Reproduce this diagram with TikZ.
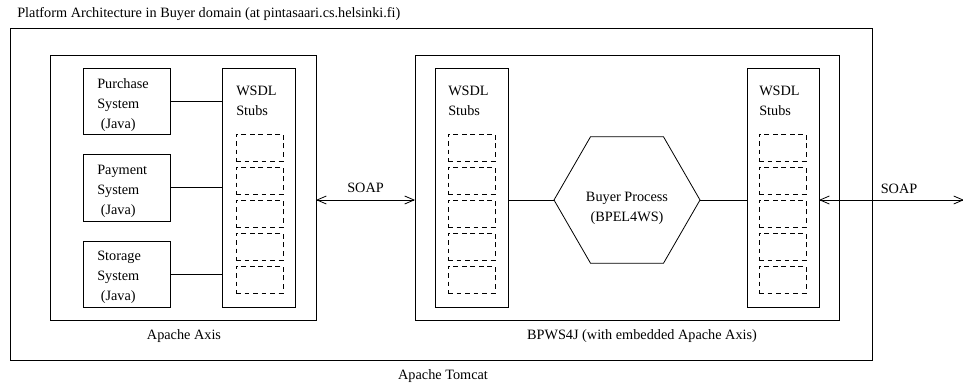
\documentclass[tikz,border=0pt]{standalone}
\usepackage{fontspec}
\setmainfont{Liberation Serif}
\usetikzlibrary{arrows.meta, positioning, fit, shapes.geometric}

\begin{document}
\begin{tikzpicture}[x=0.75pt, y=-0.75pt,
  box/.style={draw, line width=0.6pt, inner sep=0pt, outer sep=0pt},
  slot/.style={draw, dash pattern=on 3.6pt off 2.8pt, line width=0.5pt,
    inner sep=0pt, outer sep=0pt},
  txt/.style={font=\fontsize{10.7}{15}\selectfont, align=left, inner sep=0pt},
  link/.style={line width=0.6pt},
  soap/.style={{Straight Barb[length=7pt,width=6pt]}-{Straight Barb[length=7pt,width=6pt]},
    line width=0.6pt}
]
  \useasboundingbox (0,0) rectangle (963,385);

  % Containers
  \node[box, fit={(10,28) (872,360)}] (tomcat) {};
  \node[box, fit={(50,55) (316,320)}] (axis) {};
  \node[box, fit={(415,55) (839,320)}] (bpws) {};

  \node[txt, anchor=base west] (title) at (17,18)
    {Platform Architecture in Buyer domain (at pintasaari.cs.helsinki.fi)};
  \node[txt, anchor=base] (tomcatlbl) at (443,379) {Apache Tomcat};
  \node[txt, anchor=base] (axislbl) at (184,339) {Apache Axis};
  \node[txt, anchor=base] (bpwslbl) at (642,339) {BPWS4J (with embedded Apache Axis)};

  % Java systems
  \node[box, fit={(83,68) (170,134)}] (purchase) {};
  \node[box, fit={(83,154) (170,221)}] (payment) {};
  \node[box, fit={(83,241) (170,307)}] (storage) {};
  \node[txt, anchor=base west] at (97,128) {Purchase\\System\\\ (Java)};
  \node[txt, anchor=base west] at (97,214) {Payment\\System\\\ (Java)};
  \node[txt, anchor=base west] at (97,300) {Storage\\System\\\ (Java)};

  % WSDL stubs
  \node[box, fit={(222,68) (295,307)}] (stubsA) {};
  \node[box, fit={(435,68) (508,307)}] (stubsB) {};
  \node[box, fit={(747,68) (819,307)}] (stubsC) {};
  \foreach \s/\x in {stubsA/236, stubsB/448, stubsC/759} {
    \node[txt, anchor=base west] at (\x,115) {WSDL\\Stubs};
    \foreach \i in {0,...,4}
      \node[slot, fit={(\x,134+33*\i) (\x+47,161+33*\i)}] (\s-\i) {};
  }

  % Buyer process
  \node[draw, regular polygon, regular polygon sides=6, minimum size=146*0.75pt,
    inner sep=0pt, outer sep=0pt, line width=0.6pt] (proc) at (627,200) {};
  \node[txt, align=center, anchor=base] at (627,221) {Buyer Process\\(BPEL4WS)};

  % Connections
  \draw[link] (purchase.east) -- (purchase.east -| stubsA.west);
  \draw[link] (payment.east) -- (payment.east -| stubsA.west);
  \draw[link] (storage.east) -- (storage.east -| stubsA.west);
  \draw[link] (proc.west -| stubsB.east) -- (proc.west);
  \draw[link] (proc.east) -- (proc.east -| stubsC.west);

  \coordinate (ext) at (964,200);
  \draw[soap] (axis.east |- proc) -- node[txt, above=5pt] (soapA) {SOAP} (bpws.west |- proc);
  \draw[soap] (stubsC.east |- proc) -- (ext);
  \node[txt, anchor=base] (soapB) at (899,193) {SOAP};
\end{tikzpicture}
\end{document}
